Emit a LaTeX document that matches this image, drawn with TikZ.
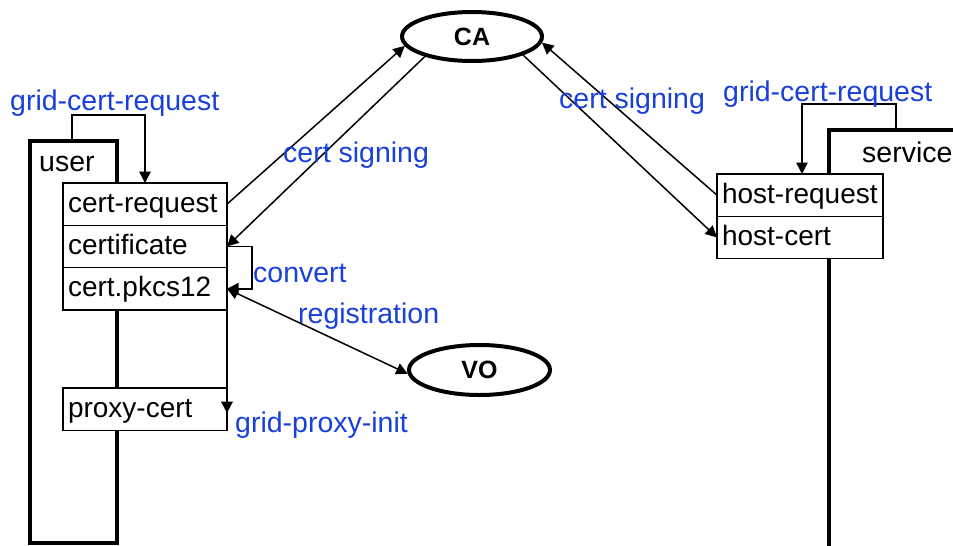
\documentclass[tikz,border=0pt]{standalone}
\usepackage{fontspec}
\setmainfont{Liberation Sans}
\usetikzlibrary{arrows.meta,shapes.geometric}
\definecolor{lblue}{RGB}{25,64,217}
\begin{document}
\begin{tikzpicture}[x=1pt,y=-1pt,
  txt/.style={font=\fontsize{28.5pt}{34pt}\selectfont, inner sep=0pt},
  lbl/.style={txt, text=lblue, anchor=base west},
  cell/.style={draw, line width=1.6pt, fill=white, inner sep=0pt, outer sep=0pt,
    font=\fontsize{28pt}{34pt}\selectfont, anchor=north west,
    minimum height=42.3pt, text width=154pt, inner xsep=5pt, align=left,
    text height=22pt, text depth=6pt,
    execute at begin node={\hyphenpenalty=10000\exhyphenpenalty=10000}},
  column/.style={draw, line width=4pt, anchor=north west, inner sep=0pt, outer sep=0pt},
  ell/.style={draw, ellipse, line width=4pt, fill=white, inner sep=0pt,
    font=\bfseries\fontsize{25pt}{30pt}\selectfont},
  tip/.style={Triangle[length=11.5pt,width=11.5pt]},
  arr/.style={line width=1.5pt, -{Triangle[length=11.5pt,width=11.5pt]}},
  arrboth/.style={line width=1.5pt, {Triangle[length=11.5pt,width=11.5pt]}-{Triangle[length=11.5pt,width=11.5pt]}}]
\useasboundingbox (0,0) rectangle (953,546);
\clip (0,0) rectangle (953,546);

% the two hosts
\node[column, minimum width=87pt, minimum height=402pt] (user) at (30,141) {};
\node[column, minimum width=200pt, minimum height=500pt] (service) at (829,130) {};

% credential files on the user side
\node[cell] (creq) at (63,183) {cert-request};
\node[cell] (cert) at (creq.south west) {certificate};
\node[cell] (pkcs) at (cert.south west) {cert.pkcs12};
\node[cell] (proxy) at (63,388) {proxy-cert};

% credential files on the service side
\node[cell, text width=156pt] (hreq) at (717,174) {host-request};
\node[cell, text width=156pt] (hcert) at (hreq.south west) {host-cert};

% grid-cert-request loops
\draw[arr] ([xshift=42pt]user.north west) -- ++(0,-26) -| (creq.north);
\draw[arr] ([xshift=67pt]service.north west) -- ++(0,-26) -| ([xshift=2pt]hreq.north);

% authorities
\node[ell, minimum width=140pt, minimum height=49pt] (ca) at (472,36.5) {CA};
\node[ell, minimum width=141pt, minimum height=50pt] (vo) at (479.5,370) {VO};

% certificate signing
\draw[arr] (creq.east) -- (ca.188);
\draw[arr] (ca.203) -- (cert.east);
\draw[arr] (hreq.west) -- (ca.-5);
\draw[arr] (ca.-20) -- (hcert.west);

% conversion, registration and proxy creation
\draw[arr] (cert.east) -- ++(25,0) |- (pkcs.east);
\draw[arrboth] (pkcs.east) -- (vo.183);
\draw[arr] (pkcs.south east) -- ([yshift=-4pt]proxy.east);

% labels
\node[txt, anchor=base west] (ulbl) at (39,171) {user};
\node[txt, anchor=base west] (slbl) at (862,162) {service};
\node[lbl] (gcr1) at (10,110) {grid-cert-request};
\node[lbl] (gcr2) at (723,101) {grid-cert-request};
\node[lbl] (cs1) at (283,162) {cert signing};
\node[lbl] (cs2) at (559,108) {cert signing};
\node[lbl] (conv) at (253,282) {convert};
\node[lbl] (reg) at (298,323) {registration};
\node[lbl] (gpi) at (235,432) {grid-proxy-init};
\end{tikzpicture}
\end{document}
